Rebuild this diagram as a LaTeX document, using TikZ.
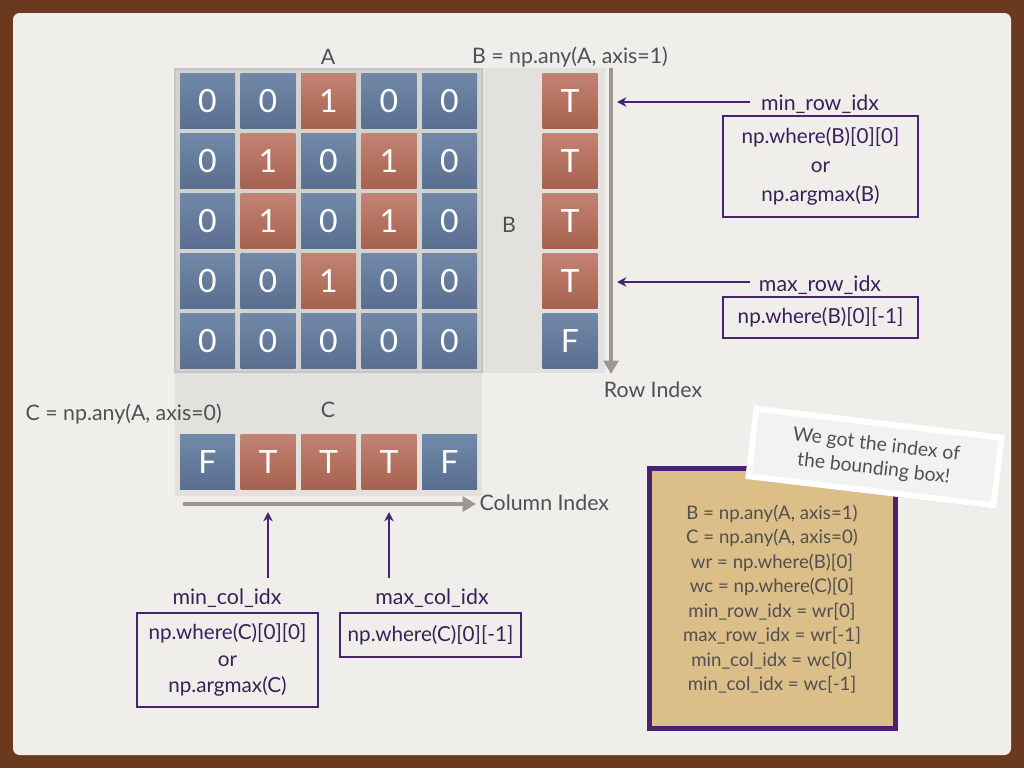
\documentclass[tikz,border=0pt]{standalone}
\usepackage{fontspec}
\setmainfont{Lato}
\usetikzlibrary{arrows.meta,shadows}
\definecolor{frame}{HTML}{6B3A1E}
\definecolor{paper}{HTML}{EFEEEA}
\definecolor{ablock}{HTML}{D3D2CF}
\definecolor{ablockline}{HTML}{C6C5C2}
\definecolor{region}{HTML}{E2E1DE}
\definecolor{bluetop}{HTML}{7189A8}
\definecolor{bluebot}{HTML}{5A6E8F}
\definecolor{redtop}{HTML}{C38372}
\definecolor{redbot}{HTML}{A66150}
\definecolor{axisgray}{HTML}{9A9890}
\definecolor{txtgray}{HTML}{505050}
\definecolor{purp}{HTML}{4A2272}
\definecolor{ptext}{HTML}{3A1F58}
\definecolor{tan}{HTML}{DBBE88}
\definecolor{cardin}{HTML}{F2F2F0}
\tikzset{
  cellbase/.style={minimum width=41.25pt, minimum height=41.25pt, inner sep=0pt,
    text=white, font=\fontsize{24}{28}\selectfont},
  bluecell/.style={cellbase, top color=bluetop, bottom color=bluebot},
  redcell/.style={cellbase, top color=redtop, bottom color=redbot},
  lbl/.style={text=txtgray, font=\fontsize{16}{18}\selectfont, inner sep=1pt},
  plbl/.style={text=ptext, font=\fontsize{16}{18}\selectfont, inner sep=1pt},
  pbox/.style={draw=purp, line width=1.5pt, text=ptext, align=center,
    font=\fontsize{15.5}{22}\selectfont, inner sep=0pt},
  axisarrow/.style={draw=axisgray, line width=3pt, -{Triangle[length=10pt,width=11pt]}},
  parrow/.style={draw=purp, line width=1.5pt, -{Stealth[length=7pt,width=7pt]}},
}
\begin{document}
\begin{tikzpicture}[x=0.75pt,y=-0.75pt]
\useasboundingbox (0,0) rectangle (1024,768);
\fill[frame] (0,0) rectangle (1024,768);
\fill[paper, rounded corners=5pt] (13,13) rectangle (1011,755);
% gray regions
\fill[region] (174,68) rectangle (605,373);
\fill[region] (175,373) rectangle (482,496);
\fill[ablock, draw=ablockline, line width=2pt] (175,69) rectangle (482,372);
% matrix A
\foreach \r [count=\i] in {{0,0,1,0,0},{0,1,0,1,0},{0,1,0,1,0},{0,0,1,0,0},{0,0,0,0,0}} {
  \foreach \v [count=\j] in \r {
    \ifnum\v=1
      \node[redcell] (a\i\j) at ({207.5+60.5*(\j-1)},{101+60*(\i-1)}) {1};
    \else
      \node[bluecell] (a\i\j) at ({207.5+60.5*(\j-1)},{101+60*(\i-1)}) {0};
    \fi
  }
}
% B column
\foreach \v [count=\i] in {T,T,T,T,F} {
  \if\v T
    \node[redcell] (b\i) at (570,{101+60*(\i-1)}) {T};
  \else
    \node[bluecell] (b\i) at (570,{101+60*(\i-1)}) {F};
  \fi
}
% C row
\foreach \v [count=\j] in {F,T,T,T,F} {
  \if\v T
    \node[redcell] (c\j) at ({207.5+60.5*(\j-1)},462) {T};
  \else
    \node[bluecell] (c\j) at ({207.5+60.5*(\j-1)},462) {F};
  \fi
}
% labels
\node[lbl] (lA) at (328,57) {A};
\node[lbl] (lBdef) at (570,57) {B = np.any(A, axis=1)};
\node[lbl] (lB) at (509,225) {B};
\node[lbl] (lC) at (328,410) {C};
\node[lbl, anchor=west] (lCdef) at (24,414) {C = np.any(A, axis=0)};
% axis arrows
\coordinate (rtop) at (611,68);
\coordinate (rbot) at (611,374);
\draw[axisarrow] (rtop) -- (rbot);
\node[lbl] (rowidx) at (653,390) {Row Index};
\coordinate (cl) at (183,504);
\coordinate (cr) at (476,504);
\draw[axisarrow] (cl) -- (cr);
\node[lbl, anchor=west] (colidx) at (478,503) {Column Index};
% row index annotations
\node[plbl] (minrow) at (820,104) {min\_row\_idx};
\node[pbox, minimum width=146.25pt, minimum height=75.75pt] (minrowbox) at (820.5,166.5)
  {np.where(B)[0][0]\\or\\np.argmax(B)};
\coordinate (minrowtip) at (617,102);
\coordinate (minrowstart) at (750,102);
\draw[parrow] (minrowstart) -- (minrowtip);
\node[plbl] (maxrow) at (820,285) {max\_row\_idx};
\node[pbox, minimum width=146.25pt, minimum height=30.75pt] (maxrowbox) at (820.5,317.5)
  {np.where(B)[0][-1]};
\coordinate (maxrowtip) at (617,282);
\coordinate (maxrowstart) at (750,282);
\draw[parrow] (maxrowstart) -- (maxrowtip);
% column index annotations
\node[plbl] (mincol) at (227,598) {min\_col\_idx};
\node[pbox, minimum width=135.75pt, minimum height=70.5pt, font=\fontsize{15.5}{20}\selectfont] (mincolbox) at (227.5,660)
  {np.where(C)[0][0]\\or\\np.argmax(C)};
\coordinate (mincolstart) at (268,578);
\coordinate (mincoltip) at (268,512);
\draw[parrow] (mincolstart) -- (mincoltip);
\node[plbl] (maxcol) at (432,598) {max\_col\_idx};
\node[pbox, minimum width=135.75pt, minimum height=33pt] (maxcolbox) at (430.5,635)
  {np.where(C)[0][-1]};
\coordinate (maxcolstart) at (389,578);
\coordinate (maxcoltip) at (389,512);
\draw[parrow] (maxcolstart) -- (maxcoltip);
% code box
\node[draw=purp, line width=3.75pt, fill=tan, minimum width=184pt, minimum height=195pt] (codebox) at (772.5,598.5) {};
\node[text=txtgray, align=center, font=\fontsize{14}{18.4}\selectfont] (code) at (772,599)
  {B = np.any(A, axis=1)\\C = np.any(A, axis=0)\\wr = np.where(B)[0]\\wc = np.where(C)[0]\\
   min\_row\_idx = wr[0]\\max\_row\_idx = wr[-1]\\min\_col\_idx = wc[0]\\min\_col\_idx = wc[-1]};
% note card
\node[rotate=-6.75, fill=cardin, draw=white, line width=4.5pt, minimum width=185pt, minimum height=51pt,
  text=txtgray, align=center, font=\fontsize{14.5}{18}\selectfont,
  drop shadow={shadow xshift=1.5pt, shadow yshift=-2.5pt, opacity=0.3}] (note) at (875,457)
  {We got the index of\\the bounding box!};
\end{tikzpicture}
\end{document}
